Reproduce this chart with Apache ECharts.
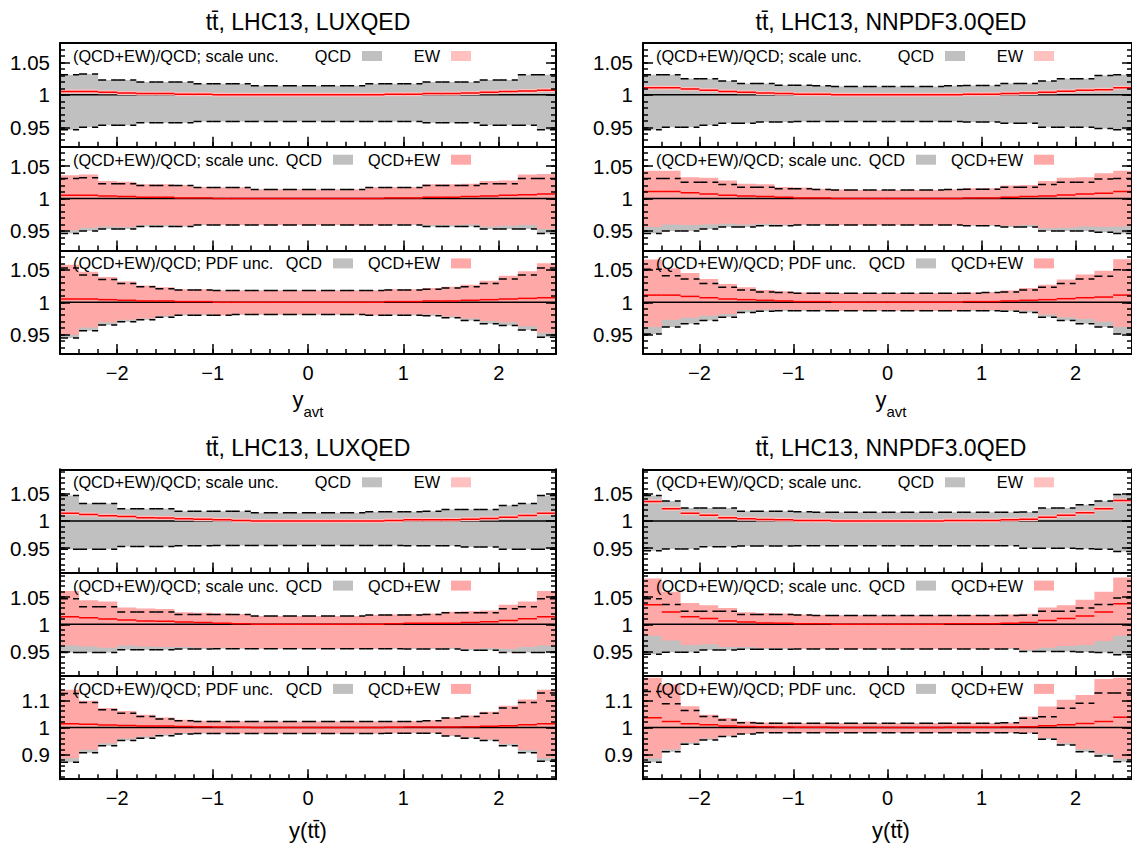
<!DOCTYPE html>
<html><head><meta charset="utf-8">
<script src="https://cdn.jsdelivr.net/npm/echarts@6/dist/echarts.min.js"></script>
<style>html,body{margin:0;padding:0;background:#fff}#c{width:1132px;height:845px}</style>
</head><body><div id="c"></div>
<script>
// ---------------- data ----------------
const binEdges = [-2.6,-2.4,-2.2,-2.0,-1.8,-1.6,-1.4,-1.2,-1.0,-0.8,-0.6,-0.4,-0.2,0,0.2,0.4,0.6,0.8,1.0,1.2,1.4,1.6,1.8,2.0,2.2,2.4,2.6];
const xMajorTicks = [-2,-1,0,1,2];
const xTickLabels = ['\u22122','\u22121','0','1','2'];
const xMinorTicks = [-2.4,-2.2,-2.0,-1.8,-1.6,-1.4,-1.2,-1.0,-0.8,-0.6,-0.4,-0.2,0,0.2,0.4,0.6,0.8,1.0,1.2,1.4,1.6,1.8,2.0,2.2,2.4];
const yTicksFine = [0.95,1,1.05];
const yTickLabelsFine = ['0.95','1','1.05'];
const yMinorFine = [0.91,0.92,0.93,0.94,0.95,0.96,0.97,0.98,0.99,1.0,1.01,1.02,1.03,1.04,1.05,1.06,1.07,1.08,1.09];
const yTicksWide = [0.9,1,1.1];
const yTickLabelsWide = ['0.9','1','1.1'];
const yMinorWide = [0.82,0.84,0.86,0.88,0.9,0.92,0.94,0.96,0.98,1.0,1.02,1.04,1.06,1.08,1.1,1.12,1.14,1.16,1.18];
const yRangeTop = [0.92,1.08];
const yRangeMid = [0.905,1.095];
const yRangeWide = [0.81,1.19];
const unity = 1;

// Panel A: y_avt, LUXQED
const A_center   = [1.005,1.005,1.004,1.003,1.002,1.002,1.001,1.001,1.000,1.000,1.000,1.000,1.000,1.000,1.000,1.000,1.000,1.001,1.001,1.002,1.002,1.003,1.004,1.005,1.006,1.007];
const A_scaleHi  = [1.031,1.032,1.023,1.023,1.020,1.020,1.020,1.017,1.017,1.017,1.014,1.014,1.014,1.014,1.014,1.014,1.017,1.017,1.017,1.020,1.020,1.020,1.023,1.023,1.031,1.031];
const A_scaleLo  = [0.946,0.950,0.953,0.953,0.957,0.957,0.957,0.959,0.959,0.959,0.959,0.959,0.959,0.959,0.959,0.959,0.959,0.959,0.959,0.957,0.957,0.957,0.953,0.953,0.953,0.946];
const A_scaleEwHi= [1.036,1.037,1.027,1.026,1.022,1.022,1.021,1.018,1.017,1.017,1.014,1.014,1.014,1.014,1.014,1.014,1.017,1.018,1.018,1.022,1.022,1.023,1.027,1.028,1.037,1.038];
const A_scaleEwLo= [0.951,0.955,0.957,0.956,0.959,0.959,0.958,0.960,0.959,0.959,0.959,0.959,0.959,0.959,0.959,0.959,0.959,0.960,0.960,0.959,0.959,0.960,0.957,0.958,0.959,0.953];
const A_pdfHi    = [1.053,1.042,1.035,1.029,1.024,1.021,1.019,1.019,1.018,1.018,1.018,1.018,1.018,1.018,1.018,1.018,1.018,1.019,1.019,1.020,1.022,1.024,1.029,1.036,1.042,1.053];
const A_pdfLo    = [0.945,0.956,0.965,0.970,0.973,0.977,0.980,0.980,0.980,0.981,0.981,0.981,0.981,0.981,0.981,0.981,0.980,0.980,0.980,0.979,0.976,0.972,0.967,0.964,0.957,0.946];
const A_pdfEwHi  = [1.058,1.047,1.039,1.032,1.026,1.023,1.020,1.020,1.018,1.018,1.018,1.018,1.018,1.018,1.018,1.018,1.018,1.020,1.020,1.022,1.024,1.027,1.033,1.041,1.048,1.060];
const A_pdfEwLo  = [0.950,0.961,0.969,0.973,0.975,0.979,0.981,0.981,0.980,0.981,0.981,0.981,0.981,0.981,0.981,0.981,0.980,0.981,0.981,0.981,0.978,0.975,0.971,0.969,0.963,0.953];

// Panel B: y_avt, NNPDF3.0QED
const B_center   = [1.011,1.011,1.009,1.007,1.005,1.004,1.003,1.002,1.001,1.001,1.000,1.000,1.000,1.000,1.000,1.000,1.000,1.001,1.001,1.002,1.003,1.004,1.0055,1.007,1.008,1.011];
const B_scaleHi  = [1.031,1.031,1.025,1.025,1.0215,1.0175,1.0175,1.015,1.015,1.014,1.013,1.013,1.013,1.013,1.013,1.013,1.014,1.0145,1.0145,1.0175,1.0175,1.0215,1.025,1.025,1.030,1.031];
const B_scaleLo  = [0.946,0.950,0.950,0.953,0.956,0.956,0.958,0.958,0.959,0.959,0.959,0.959,0.959,0.959,0.959,0.959,0.959,0.958,0.958,0.956,0.956,0.950,0.950,0.950,0.948,0.946];
const B_scaleEwHi= [1.043,1.043,1.033,1.032,1.028,1.023,1.022,1.018,1.017,1.015,1.014,1.013,1.013,1.013,1.013,1.013,1.014,1.016,1.016,1.020,1.021,1.027,1.032,1.033,1.039,1.043];
const B_scaleEwLo= [0.956,0.960,0.959,0.960,0.961,0.960,0.961,0.960,0.960,0.960,0.959,0.959,0.959,0.959,0.959,0.959,0.959,0.959,0.959,0.958,0.959,0.954,0.955,0.957,0.956,0.957];
const B_pdfHi    = [1.051,1.041,1.036,1.029,1.023,1.019,1.016,1.015,1.014,1.014,1.014,1.014,1.014,1.014,1.014,1.014,1.014,1.014,1.015,1.016,1.019,1.023,1.029,1.036,1.040,1.050];
const B_pdfLo    = [0.951,0.962,0.967,0.972,0.977,0.984,0.986,0.987,0.987,0.987,0.987,0.987,0.987,0.987,0.987,0.987,0.987,0.987,0.987,0.986,0.984,0.977,0.972,0.967,0.962,0.951];
const B_pdfEwHi  = [1.066,1.0525,1.045,1.036,1.028,1.023,1.019,1.017,1.015,1.015,1.014,1.014,1.014,1.014,1.014,1.014,1.014,1.015,1.016,1.018,1.022,1.027,1.035,1.043,1.0485,1.0665];
const B_pdfEwLo  = [0.962,0.973,0.976,0.979,0.982,0.988,0.989,0.989,0.988,0.988,0.987,0.987,0.987,0.987,0.987,0.987,0.987,0.988,0.988,0.988,0.987,0.981,0.977,0.974,0.970,0.962];

// Panel C: y(tt), LUXQED
const C_center   = [1.014,1.012,1.0095,1.008,1.006,1.0055,1.004,1.003,1.002,1.001,1.000,1.000,1.000,1.000,1.000,1.000,1.000,1.001,1.002,1.002,1.002,1.003,1.0045,1.007,1.010,1.014];
const C_scaleHi  = [1.047,1.032,1.032,1.0225,1.0225,1.0225,1.018,1.018,1.018,1.018,1.015,1.015,1.015,1.015,1.015,1.015,1.017,1.017,1.017,1.018,1.021,1.021,1.021,1.0285,1.032,1.047];
const C_scaleLo  = [0.948,0.948,0.948,0.953,0.953,0.953,0.9545,0.9545,0.955,0.955,0.955,0.955,0.955,0.955,0.955,0.955,0.955,0.955,0.9545,0.9545,0.9545,0.952,0.952,0.948,0.948,0.948];
const C_scaleEwHi= [1.061,1.044,1.042,1.031,1.029,1.028,1.022,1.021,1.020,1.019,1.015,1.015,1.015,1.015,1.015,1.015,1.017,1.018,1.019,1.020,1.023,1.024,1.0255,1.036,1.042,1.061];
const C_scaleEwLo= [0.961,0.959,0.957,0.961,0.959,0.958,0.958,0.957,0.957,0.956,0.955,0.955,0.955,0.955,0.955,0.955,0.955,0.956,0.956,0.956,0.957,0.955,0.956,0.955,0.958,0.961];
const C_pdfHi    = [1.125,1.0925,1.0655,1.053,1.041,1.031,1.025,1.022,1.022,1.022,1.022,1.022,1.022,1.022,1.022,1.022,1.022,1.022,1.022,1.025,1.035,1.041,1.053,1.072,1.0925,1.127];
const C_pdfLo    = [0.872,0.9075,0.9335,0.952,0.961,0.970,0.976,0.9785,0.9785,0.9785,0.9785,0.9785,0.9785,0.9785,0.9785,0.9785,0.9785,0.979,0.979,0.979,0.969,0.961,0.952,0.9335,0.9075,0.876];
const C_pdfEwHi  = [1.139,1.099,1.072,1.061,1.047,1.037,1.029,1.025,1.024,1.023,1.022,1.022,1.022,1.022,1.022,1.022,1.022,1.023,1.024,1.027,1.037,1.044,1.058,1.080,1.103,1.139];
const C_pdfEwLo  = [0.887,0.918,0.942,0.960,0.967,0.975,0.980,0.981,0.980,0.979,0.9785,0.9785,0.9785,0.9785,0.9785,0.9785,0.9785,0.980,0.981,0.981,0.971,0.964,0.956,0.940,0.917,0.888];

// Panel D: y(tt), NNPDF3.0QED
const D_center   = [1.036,1.0225,1.014,1.0105,1.006,1.004,1.0025,1.002,1.001,1.001,1.000,1.000,1.000,1.000,1.000,1.000,1.001,1.001,1.001,1.002,1.003,1.007,1.0105,1.015,1.0225,1.0375];
const D_scaleHi  = [1.047,1.0365,1.024,1.024,1.024,1.018,1.018,1.018,1.017,1.016,1.016,1.016,1.016,1.016,1.016,1.016,1.016,1.016,1.016,1.016,1.0165,1.024,1.024,1.030,1.0365,1.0485];
const D_scaleLo  = [0.945,0.9485,0.9485,0.9527,0.9527,0.954,0.954,0.954,0.9545,0.9545,0.9545,0.9545,0.9545,0.9545,0.9545,0.9545,0.9545,0.9545,0.9545,0.9545,0.950,0.950,0.950,0.949,0.948,0.944];
const D_scaleEwHi= [1.084,1.060,1.039,1.035,1.030,1.022,1.0205,1.020,1.018,1.017,1.016,1.016,1.016,1.016,1.016,1.016,1.017,1.017,1.017,1.018,1.0195,1.031,1.035,1.045,1.060,1.086];
const D_scaleEwLo= [0.979,0.970,0.962,0.963,0.958,0.958,0.9565,0.956,0.955,0.955,0.9545,0.9545,0.9545,0.9545,0.9545,0.9545,0.955,0.955,0.955,0.956,0.953,0.957,0.960,0.962,0.969,0.979];
const D_pdfHi    = [1.133,1.088,1.063,1.041,1.028,1.018,1.016,1.016,1.016,1.016,1.016,1.016,1.016,1.016,1.016,1.016,1.016,1.016,1.016,1.018,1.034,1.040,1.071,1.089,1.127,1.127];
const D_pdfLo    = [0.872,0.911,0.9385,0.9545,0.967,0.976,0.981,0.981,0.981,0.981,0.981,0.981,0.981,0.981,0.981,0.981,0.981,0.981,0.981,0.981,0.979,0.957,0.936,0.911,0.895,0.874];
const D_pdfEwHi  = [1.183,1.158,1.078,1.047,1.035,1.022,1.019,1.018,1.017,1.017,1.016,1.016,1.016,1.016,1.016,1.016,1.016,1.017,1.017,1.018,1.041,1.077,1.102,1.120,1.179,1.183];
const D_pdfEwLo  = [0.887,0.920,0.945,0.960,0.970,0.978,0.982,0.982,0.981,0.981,0.981,0.981,0.981,0.981,0.981,0.981,0.981,0.981,0.982,0.982,0.981,0.962,0.942,0.920,0.905,0.885];

// ---------------- layout / style ----------------
const FONT = '"Liberation Sans", Arial, Helvetica, sans-serif';
const GREY = '#c0c0c0', PINK = '#ffa8a8', LIGHTPINK = '#ffc0c0', RED = '#ff0000';
const PW = 496;

const panels = [
  {title:'tt\u0304, LHC13, LUXQED', xt:'avt', left:60, top:43, h:103.7, ranges:[yRangeTop,yRangeTop,yRangeTop],
   c:A_center, sL:A_scaleLo, sH:A_scaleHi, seL:A_scaleEwLo, seH:A_scaleEwHi, pL:A_pdfLo, pH:A_pdfHi, peL:A_pdfEwLo, peH:A_pdfEwHi},
  {title:'tt\u0304, LHC13, NNPDF3.0QED', xt:'avt', left:643, top:43, h:103.7, ranges:[yRangeTop,yRangeTop,yRangeTop],
   c:B_center, sL:B_scaleLo, sH:B_scaleHi, seL:B_scaleEwLo, seH:B_scaleEwHi, pL:B_pdfLo, pH:B_pdfHi, peL:B_pdfEwLo, peH:B_pdfEwHi},
  {title:'tt\u0304, LHC13, LUXQED', xt:'tt', left:60, top:469.3, h:103.3, ranges:[yRangeMid,yRangeMid,yRangeWide],
   c:C_center, sL:C_scaleLo, sH:C_scaleHi, seL:C_scaleEwLo, seH:C_scaleEwHi, pL:C_pdfLo, pH:C_pdfHi, peL:C_pdfEwLo, peH:C_pdfEwHi},
  {title:'tt\u0304, LHC13, NNPDF3.0QED', xt:'tt', left:643, top:469.3, h:103.3, ranges:[yRangeMid,yRangeMid,yRangeWide],
   c:D_center, sL:D_scaleLo, sH:D_scaleHi, seL:D_scaleEwLo, seH:D_scaleEwHi, pL:D_pdfLo, pH:D_pdfHi, peL:D_pdfEwLo, peH:D_pdfEwHi}
];

const grids=[], xAxes=[], yAxes=[], series=[], graphics=[];

function txt(x, y, text, size, align, valign) {
  graphics.push({type:'text', x, y, z:100, silent:true,
    style:{text, font: size + 'px ' + FONT, fill:'#000', align, verticalAlign:valign, textAlign:align, textVerticalAlign:valign}});
}
function box(x, y, w, h, fill) {
  graphics.push({type:'rect', z:100, silent:true, shape:{x, y, width:w, height:h}, style:{fill}});
}
function labelFor(ticks, labels) {
  return v => { const i = ticks.findIndex(t => Math.abs(t - v) < 1e-9); return i >= 0 ? labels[i] : ''; };
}

function bandSeries(xi, yi, lo, hi, color, z) {
  return {type:'custom', xAxisIndex:xi, yAxisIndex:yi, clip:true, silent:true, z, data:[[0, unity]], encode:{x:0, y:1},
    renderItem(params, api) {
      const top = [], bot = [];
      for (let i = 0; i < lo.length; i++) {
        top.push(api.coord([binEdges[i], hi[i]]), api.coord([binEdges[i+1], hi[i]]));
        bot.push(api.coord([binEdges[i], lo[i]]), api.coord([binEdges[i+1], lo[i]]));
      }
      return {type:'polygon', shape:{points: top.concat(bot.reverse())}, style:{fill:color}};
    }};
}
function segSeries(xi, yi, arrays, stroke, width, dash, z) {
  return {type:'custom', xAxisIndex:xi, yAxisIndex:yi, clip:true, silent:true, z, data:[[0, unity]], encode:{x:0, y:1},
    renderItem(params, api) {
      const children = [];
      arrays.forEach(arr => {
        for (let i = 0; i < arr.length; i++) {
          const a = api.coord([binEdges[i], arr[i]]), b = api.coord([binEdges[i+1], arr[i]]);
          children.push({type:'line', shape:{x1:a[0], y1:a[1], x2:b[0], y2:b[1]},
            style:{stroke, lineWidth:width, lineDash:dash, fill:null}});
        }
      });
      return {type:'group', children};
    }};
}
function unitySeries(xi, yi, z) {
  return {type:'custom', xAxisIndex:xi, yAxisIndex:yi, clip:true, silent:true, z, data:[[0, unity]], encode:{x:0, y:1},
    renderItem(params, api) {
      const a = api.coord([binEdges[0], unity]), b = api.coord([binEdges[binEdges.length-1], unity]);
      return {type:'line', shape:{x1:a[0], y1:a[1], x2:b[0], y2:b[1]}, style:{stroke:'#000', lineWidth:1.5}};
    }};
}

panels.forEach(p => {
  const subs = [
    {grey:[p.sL,p.sH], pink:null, dash:[p.sL,p.sH], lbl:'(QCD+EW)/QCD; scale unc.', l2:'QCD', l3:'EW', kind:1},
    {grey:[p.sL,p.sH], pink:[p.seL,p.seH], dash:[p.sL,p.sH], lbl:'(QCD+EW)/QCD; scale unc.', l2:'QCD', l3:'QCD+EW', kind:2},
    {grey:[p.pL,p.pH], pink:[p.peL,p.peH], dash:[p.pL,p.pH], lbl:'(QCD+EW)/QCD; PDF unc.', l2:'QCD', l3:'QCD+EW', kind:3}
  ];
  subs.forEach((s, k) => {
    const g = grids.length;
    const top = p.top + k * p.h;
    const rng = p.ranges[k];
    const wide = rng === yRangeWide;
    const majors = wide ? yTicksWide : yTicksFine;
    const majLabels = wide ? yTickLabelsWide : yTickLabelsFine;
    const minors = (wide ? yMinorWide : yMinorFine).filter(v => v > rng[0] + 1e-9 && v < rng[1] - 1e-9);
    const last = k === 2;
    grids.push({left:p.left, top, width:PW, height:p.h, show:false});
    const axLine = {show:true, onZero:false, lineStyle:{color:'#000', width:2}};
    const noLine = {show:false, onZero:false};
    xAxes.push({gridIndex:g, type:'value', min:binEdges[0], max:binEdges[binEdges.length-1], position:'bottom', z:10,
      axisLine:axLine, splitLine:{show:false},
      axisTick:{show:true, inside:true, length:10, customValues:xMajorTicks, lineStyle:{color:'#000', width:1.5}},
      axisLabel:{show:last, customValues:xMajorTicks, formatter:labelFor(xMajorTicks, xTickLabels), fontSize:20, fontFamily:FONT, color:'#000', margin:9}});
    xAxes.push({gridIndex:g, type:'value', min:binEdges[0], max:binEdges[binEdges.length-1], position:'bottom', z:10,
      axisLine:noLine, splitLine:{show:false},
      axisTick:{show:true, inside:true, length:5, customValues:xMinorTicks, lineStyle:{color:'#000', width:1.5}},
      axisLabel:{show:false}});
    xAxes.push({gridIndex:g, type:'value', min:binEdges[0], max:binEdges[binEdges.length-1], position:'top', z:10,
      axisLine:axLine, splitLine:{show:false}, axisTick:{show:false}, axisLabel:{show:false}});
    [['left',true],['right',false]].forEach(([pos, lab]) => {
      yAxes.push({gridIndex:g, type:'value', min:rng[0], max:rng[1], position:pos, z:10,
        axisLine:axLine, splitLine:{show:false},
        axisTick:{show:true, inside:true, length:10, customValues:majors, lineStyle:{color:'#000', width:1.5}},
        axisLabel:{show:lab, customValues:majors, formatter:labelFor(majors, majLabels), fontSize:20.5, fontFamily:FONT, color:'#000', margin:10}});
      yAxes.push({gridIndex:g, type:'value', min:rng[0], max:rng[1], position:pos, z:10,
        axisLine:noLine, splitLine:{show:false},
        axisTick:{show:true, inside:true, length:5, customValues:minors, lineStyle:{color:'#000', width:1.5}},
        axisLabel:{show:false}});
    });
    const xi = g * 3, yi = g * 4;
    series.push(bandSeries(xi, yi, s.grey[0], s.grey[1], GREY, 1));
    if (s.pink) series.push(bandSeries(xi, yi, s.pink[0], s.pink[1], PINK, 2));
    series.push(segSeries(xi, yi, s.dash, '#000', 1.5, [8,5], 3));
    series.push(unitySeries(xi, yi, 4));
    if (s.kind === 1) series.push(segSeries(xi, yi, [p.c], LIGHTPINK, 4, null, 5));
    series.push(segSeries(xi, yi, [p.c], RED, 1.5, null, 6));
    const L = p.left;
    txt(L + 13, top + 13, s.lbl, 16.3, 'left', 'middle');
    if (s.kind === 1) {
      txt(L + 291, top + 13, s.l2, 16.3, 'right', 'middle');
      box(L + 302, top + 8, 20, 10, GREY);
    } else {
      txt(L + 262, top + 13, s.l2, 16.3, 'right', 'middle');
      box(L + 273, top + 8, 20, 10, GREY);
    }
    txt(L + 380, top + 13, s.l3, 16.3, 'right', 'middle');
    box(L + 391, top + 8, 20, 10, s.kind === 1 ? LIGHTPINK : PINK);
  });
  const cx = p.left + PW / 2;
  txt(cx, p.top - 21, p.title, 23, 'center', 'middle');
  const bottom = p.top + 3 * p.h;
  if (p.xt === 'avt') {
    txt(cx - 15.5, bottom + 45, 'y', 22, 'left', 'middle');
    txt(cx - 4.5, bottom + 57, 'avt', 15, 'left', 'middle');
  } else {
    txt(cx, bottom + 51, 'y(tt\u0304)', 22, 'center', 'middle');
  }
});

const chart = echarts.init(document.getElementById('c'), null, {renderer:'svg', width:1132, height:845});
chart.setOption({animation:false, backgroundColor:'#fff', grid:grids, xAxis:xAxes, yAxis:yAxes, series, graphic:graphics});
</script></body></html>
